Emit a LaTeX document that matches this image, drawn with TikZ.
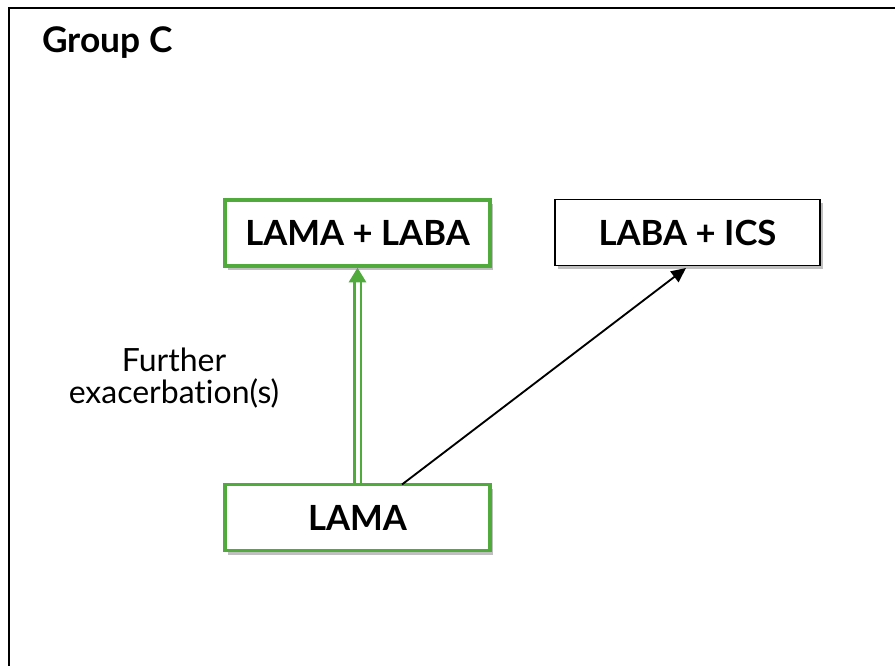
\documentclass[tikz,border=0pt]{standalone}
\usepackage{fontspec}
\setmainfont[Ligatures=NoCommon]{Lato}
\usetikzlibrary{shadows,arrows.meta}
\definecolor{grn}{RGB}{80,170,60}
\begin{document}
\begin{tikzpicture}[x=0.75pt,y=-0.75pt,
  box/.style={draw=#1,fill=white,minimum width=265*0.75pt,minimum height=66*0.75pt,
    font=\fontsize{26}{30}\selectfont\bfseries,
    drop shadow={shadow xshift=2pt,shadow yshift=-3pt,opacity=0.25,fill=black}},
  lbl/.style={font=\fontsize{24}{24.5}\selectfont,align=center}]
\useasboundingbox (0,0) rectangle (895,666);
\fill[white] (0,0) rectangle (895,666);
\draw[line width=1.6pt] (9,700) -- (9,8) -- (900,8);
\node[anchor=west,inner sep=0pt,font=\fontsize{26.5}{30}\selectfont\bfseries] (title) at (42,43) {Group C};
\node[box=grn,line width=2.6pt] (ll) at (357.5,233) {LAMA + LABA};
\node[box=black,line width=1.3pt] (li) at (687.5,232.5) {LABA + ICS};
\node[box=grn,line width=2.6pt] (la) at (357.5,517.5) {LAMA};
\draw[grn,double=white,double distance=3pt,line width=1.6pt,-{Triangle[length=11pt,width=13pt]}] (la.north) -- (ll.south);
\draw[line width=1.4pt,-{Triangle[length=11pt,width=10pt]}] (402,484.5) coordinate (s) -- (686,268);
\node[lbl] (fx) at (174,378) {Further\\exacerbation(s)};
\end{tikzpicture}
\end{document}
